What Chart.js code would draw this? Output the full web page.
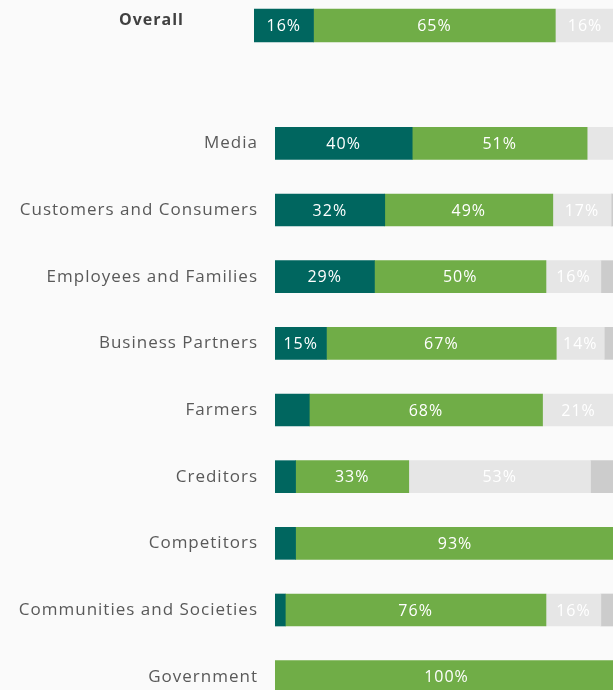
<!DOCTYPE html>
<html>
<head>
<meta charset="utf-8">
<script src="https://cdn.jsdelivr.net/npm/chart.js@4"></script>
<style>
  html, body { margin: 0; padding: 0; overflow: hidden; background: #fafafa; width: 613px; height: 690px; }
  canvas { position: absolute; left: 0; display: block; }
  #overallChart { top: 0; }
  #groupChart { top: 110px; }
</style>
</head>
<body>
<canvas id="overallChart" width="626" height="51"></canvas>
<canvas id="groupChart" width="618" height="600"></canvas>
<script>
'use strict';

// Data
const overallLabels = ['Overall'];
const overallVeryGood = [16];
const overallGood = [65];
const overallNeutral = [16];
const overallPoor = [3];

const groups = [
    'Media',
    'Customers and Consumers',
    'Employees and Families',
    'Business Partners',
    'Farmers',
    'Creditors',
    'Competitors',
    'Communities and Societies',
    'Government'
];
const veryGood = [40, 32, 29, 15, 10, 6, 6, 3, 0];
const good = [51, 49, 50, 67, 68, 33, 93, 76, 100];
const neutral = [9, 17, 16, 14, 21, 53, 1, 16, 0];
const poor = [0, 2, 5, 4, 1, 8, 0, 5, 0];

const colors = ['#00665f', '#70ad47', '#e6e6e6', '#cccccc'];
const MIN_LABEL = 12;

// the reference font is wider, so spread the letters a bit
const wideText = {
    id: 'wideText',
    beforeDraw(chart) {
        chart.ctx.letterSpacing = '1px';
    }
};

// Draws the % text in the middle of each segment
const segmentLabels = {
    id: 'segmentLabels',
    afterDatasetsDraw(chart) {
        const ctx = chart.ctx;
        ctx.save();
        ctx.font = '16px "Open Sans", sans-serif';
        ctx.letterSpacing = '1px';
        ctx.fillStyle = '#ffffff';
        ctx.textAlign = 'center';
        ctx.textBaseline = 'middle';
        chart.data.datasets.forEach((ds, i) => {
            if (i > 2) return;
            const meta = chart.getDatasetMeta(i);
            meta.data.forEach((bar, j) => {
                const v = ds.data[j];
                if (!v || v < MIN_LABEL) return;
                ctx.fillText(v + '%', (bar.x + bar.base) / 2, bar.y + 1);
            });
        });
        ctx.restore();
    }
};

function makeDatasets(series) {
    const names = ['Very good', 'Good', 'Neutral', 'Poor'];
    return series.map((data, i) => ({
        label: names[i],
        data: data.map(v => (v === 0 ? null : v)),
        backgroundColor: colors[i],
        borderWidth: 0
    }));
}

function makeOptions(axisWidth, tickPadding, thickness, tickFont, tickColor, labelOffset) {
    return {
        indexAxis: 'y',
        responsive: false,
        animation: false,
        layout: { padding: 0 },
        datasets: { bar: { barThickness: thickness } },
        scales: {
            x: {
                stacked: true,
                min: 0,
                max: 100,
                display: false
            },
            y: {
                stacked: true,
                grid: { display: false, drawTicks: false },
                border: { display: false },
                ticks: {
                    color: tickColor,
                    font: tickFont,
                    padding: tickPadding,
                    labelOffset: labelOffset
                },
                afterFit(scale) {
                    scale.width = axisWidth;
                    scale.paddingTop = 0;
                    scale.paddingBottom = 0;
                }
            }
        },
        plugins: {
            legend: { display: false },
            tooltip: { enabled: false }
        }
    };
}

new Chart(document.getElementById('overallChart'), {
    type: 'bar',
    data: {
        labels: overallLabels,
        datasets: makeDatasets([overallVeryGood, overallGood, overallNeutral, overallPoor])
    },
    options: makeOptions(254, 70, 33, { family: '"Open Sans", sans-serif', size: 16, weight: 'bold' }, '#404040', -5),
    plugins: [wideText, segmentLabels]
});

new Chart(document.getElementById('groupChart'), {
    type: 'bar',
    data: {
        labels: groups,
        datasets: makeDatasets([veryGood, good, neutral, poor])
    },
    options: makeOptions(275, 17, 32, { family: '"Open Sans", sans-serif', size: 17 }, '#595959', 0),
    plugins: [wideText, segmentLabels]
});
</script>
</body>
</html>
